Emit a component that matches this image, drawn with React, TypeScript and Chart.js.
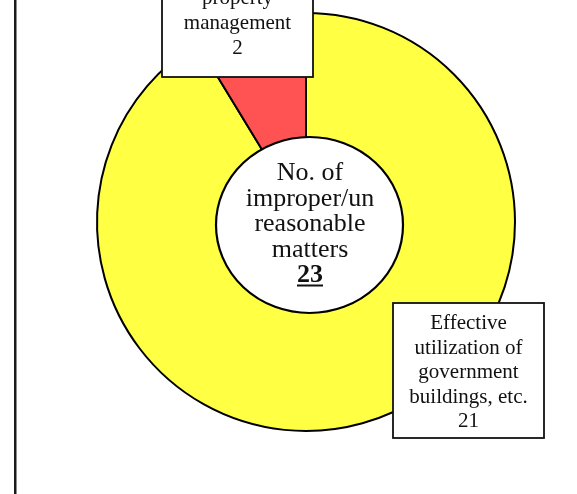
import React, { useEffect, useRef } from "react";
import { Chart, registerables } from "chart.js";

Chart.register(...registerables);

// ---- data ----
const categories = [
  "Effective utilization of government buildings, etc.",
  "property management",
];
const categoryLines = [
  ["Effective", "utilization of", "government", "buildings, etc."],
  ["property", "management"],
];
const counts = [21, 2];
const sliceColors = ["#FFFF44", "#FF5252"];
const centerTitleLines = ["No. of", "improper/un", "reasonable", "matters"];

const FONT = '"Liberation Serif", "Times New Roman", serif';

function drawBox(
  ctx: CanvasRenderingContext2D,
  x: number,
  y: number,
  w: number,
  h: number,
  lines: string[],
  firstBaseline: number,
  spacing: number
) {
  ctx.save();
  ctx.fillStyle = "#ffffff";
  ctx.fillRect(x, y, w, h);
  ctx.lineWidth = 1.8;
  ctx.strokeStyle = "#111111";
  ctx.strokeRect(x, y, w, h);
  ctx.fillStyle = "#111111";
  ctx.textAlign = "center";
  ctx.textBaseline = "alphabetic";
  ctx.font = "21px " + FONT;
  lines.forEach((l, i) => ctx.fillText(l, x + w / 2, firstBaseline + i * spacing));
  ctx.restore();
}

const overlay = {
  id: "overlay",
  afterDraw(chart: any) {
    const ctx: CanvasRenderingContext2D = chart.ctx;
    const arc = chart.getDatasetMeta(0).data[0] as any;
    if (!arc) return;
    const cx = arc.x;
    const cy = arc.y;
    const total = counts.reduce((a, b) => a + b, 0);
    ctx.save();

    // left vertical rule
    ctx.fillStyle = "#1a1a1a";
    ctx.fillRect(14, 0, 2.5, chart.height);

    // center disc
    ctx.beginPath();
    ctx.ellipse(cx + 3.5, cy + 3, 93.5, 88, 0, 0, Math.PI * 2);
    ctx.fillStyle = "#ffffff";
    ctx.fill();
    ctx.lineWidth = 2.2;
    ctx.strokeStyle = "#000000";
    ctx.stroke();

    // center text
    ctx.fillStyle = "#111111";
    ctx.textAlign = "center";
    ctx.textBaseline = "alphabetic";
    ctx.font = "26px " + FONT;
    const tx = cx + 4;
    const baseY = cy - 42;
    const lh = 25.5;
    centerTitleLines.forEach((l, i) => ctx.fillText(l, tx, baseY + i * lh));
    ctx.font = "bold 26px " + FONT;
    const totalStr = String(total);
    const ty = baseY + centerTitleLines.length * lh;
    ctx.fillText(totalStr, tx, ty);
    const tw = ctx.measureText(totalStr).width;
    ctx.fillRect(tx - tw / 2, ty + 2.5, tw, 2);
    ctx.restore();

    // label boxes
    drawBox(
      ctx,
      cx + 87,
      cy + 81,
      151,
      135,
      [...categoryLines[0], String(counts[0])],
      cy + 107,
      24.5
    );
    drawBox(
      ctx,
      cx - 144,
      cy - 260,
      151,
      115,
      [...categoryLines[1], String(counts[1])],
      cy - 218,
      25
    );
  },
};

export default function App() {
  const ref = useRef<HTMLCanvasElement | null>(null);
  useEffect(() => {
    if (!ref.current) return;
    const chart = new Chart(ref.current, {
      type: "doughnut",
      data: {
        labels: categories,
        datasets: [
          {
            data: counts,
            backgroundColor: sliceColors,
            borderColor: "#000000",
            borderWidth: 2,
          },
        ],
      },
      options: {
        responsive: false,
        animation: false,
        cutout: "40%",
        rotation: 0,
        layout: { padding: { left: 96, right: 61, top: 12, bottom: 62 } },
        plugins: {
          legend: { display: false },
          tooltip: { enabled: false },
        },
      },
      plugins: [overlay],
    });
    return () => chart.destroy();
  }, []);
  return (
    <div style={{ position: "absolute", left: 0, top: 0, width: 577, height: 494, background: "#ffffff" }}>
      <canvas ref={ref} width={577} height={494} style={{ display: "block" }} />
    </div>
  );
}
